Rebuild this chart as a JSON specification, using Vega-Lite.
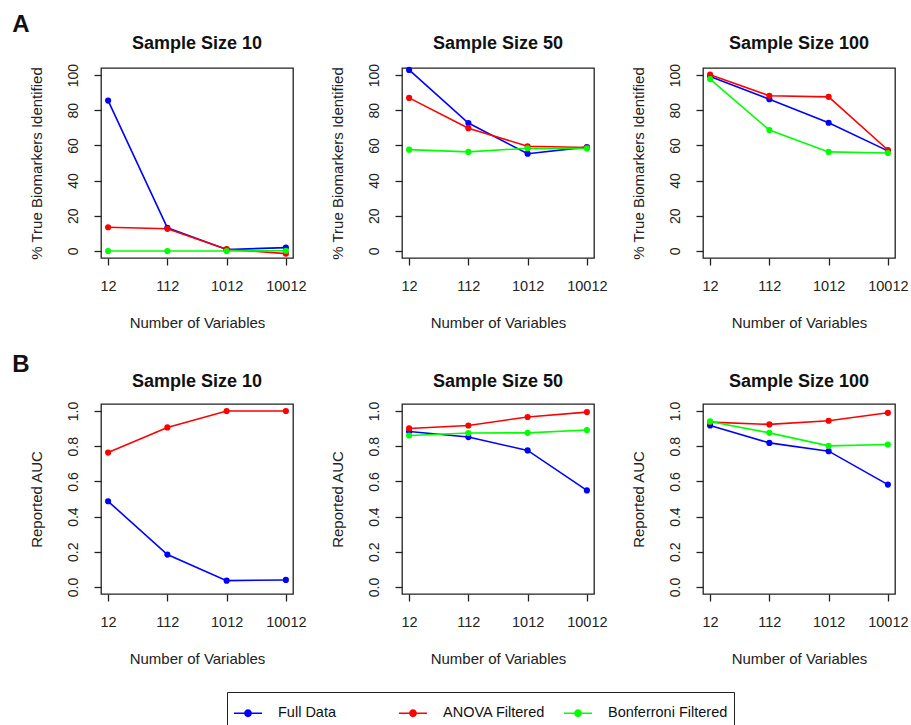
{
  "$schema": "https://vega.github.io/schema/vega-lite/v6.json",
  "padding": {"left": 12, "top": 12, "right": 2, "bottom": 2},
  "background": "white",
  "datasets": {
    "pts": [
      {"panel": "A10", "vars": "12", "method": "Full Data", "value": 85.5},
      {"panel": "A10", "vars": "112", "method": "Full Data", "value": 13.2},
      {"panel": "A10", "vars": "1012", "method": "Full Data", "value": 0.8},
      {"panel": "A10", "vars": "10012", "method": "Full Data", "value": 1.9},
      {"panel": "A10", "vars": "12", "method": "ANOVA Filtered", "value": 13.5},
      {"panel": "A10", "vars": "112", "method": "ANOVA Filtered", "value": 12.6},
      {"panel": "A10", "vars": "1012", "method": "ANOVA Filtered", "value": 1.0},
      {"panel": "A10", "vars": "10012", "method": "ANOVA Filtered", "value": -1.5},
      {"panel": "A10", "vars": "12", "method": "Bonferroni Filtered", "value": 0},
      {"panel": "A10", "vars": "112", "method": "Bonferroni Filtered", "value": 0},
      {"panel": "A10", "vars": "1012", "method": "Bonferroni Filtered", "value": 0},
      {"panel": "A10", "vars": "10012", "method": "Bonferroni Filtered", "value": 0.1},
      {"panel": "A50", "vars": "12", "method": "Full Data", "value": 102.9},
      {"panel": "A50", "vars": "112", "method": "Full Data", "value": 72.7},
      {"panel": "A50", "vars": "1012", "method": "Full Data", "value": 55.3},
      {"panel": "A50", "vars": "10012", "method": "Full Data", "value": 59.0},
      {"panel": "A50", "vars": "12", "method": "ANOVA Filtered", "value": 87.0},
      {"panel": "A50", "vars": "112", "method": "ANOVA Filtered", "value": 69.8},
      {"panel": "A50", "vars": "1012", "method": "ANOVA Filtered", "value": 59.5},
      {"panel": "A50", "vars": "10012", "method": "ANOVA Filtered", "value": 58.8},
      {"panel": "A50", "vars": "12", "method": "Bonferroni Filtered", "value": 57.6},
      {"panel": "A50", "vars": "112", "method": "Bonferroni Filtered", "value": 56.3},
      {"panel": "A50", "vars": "1012", "method": "Bonferroni Filtered", "value": 58.4},
      {"panel": "A50", "vars": "10012", "method": "Bonferroni Filtered", "value": 58.2},
      {"panel": "A100", "vars": "12", "method": "Full Data", "value": 99.2},
      {"panel": "A100", "vars": "112", "method": "Full Data", "value": 86.3},
      {"panel": "A100", "vars": "1012", "method": "Full Data", "value": 72.9},
      {"panel": "A100", "vars": "10012", "method": "Full Data", "value": 56.9},
      {"panel": "A100", "vars": "12", "method": "ANOVA Filtered", "value": 100.2},
      {"panel": "A100", "vars": "112", "method": "ANOVA Filtered", "value": 88.2},
      {"panel": "A100", "vars": "1012", "method": "ANOVA Filtered", "value": 87.6},
      {"panel": "A100", "vars": "10012", "method": "ANOVA Filtered", "value": 57.4},
      {"panel": "A100", "vars": "12", "method": "Bonferroni Filtered", "value": 97.7},
      {"panel": "A100", "vars": "112", "method": "Bonferroni Filtered", "value": 68.7},
      {"panel": "A100", "vars": "1012", "method": "Bonferroni Filtered", "value": 56.3},
      {"panel": "A100", "vars": "10012", "method": "Bonferroni Filtered", "value": 55.7},
      {"panel": "B10", "vars": "12", "method": "Full Data", "value": 0.487},
      {"panel": "B10", "vars": "112", "method": "Full Data", "value": 0.184},
      {"panel": "B10", "vars": "1012", "method": "Full Data", "value": 0.036},
      {"panel": "B10", "vars": "10012", "method": "Full Data", "value": 0.040},
      {"panel": "B10", "vars": "12", "method": "ANOVA Filtered", "value": 0.764},
      {"panel": "B10", "vars": "112", "method": "ANOVA Filtered", "value": 0.907},
      {"panel": "B10", "vars": "1012", "method": "ANOVA Filtered", "value": 1.0},
      {"panel": "B10", "vars": "10012", "method": "ANOVA Filtered", "value": 1.0},
      {"panel": "B50", "vars": "12", "method": "Full Data", "value": 0.884},
      {"panel": "B50", "vars": "112", "method": "Full Data", "value": 0.852},
      {"panel": "B50", "vars": "1012", "method": "Full Data", "value": 0.776},
      {"panel": "B50", "vars": "10012", "method": "Full Data", "value": 0.549},
      {"panel": "B50", "vars": "12", "method": "ANOVA Filtered", "value": 0.901},
      {"panel": "B50", "vars": "112", "method": "ANOVA Filtered", "value": 0.918},
      {"panel": "B50", "vars": "1012", "method": "ANOVA Filtered", "value": 0.966},
      {"panel": "B50", "vars": "10012", "method": "ANOVA Filtered", "value": 0.994},
      {"panel": "B50", "vars": "12", "method": "Bonferroni Filtered", "value": 0.861},
      {"panel": "B50", "vars": "112", "method": "Bonferroni Filtered", "value": 0.875},
      {"panel": "B50", "vars": "1012", "method": "Bonferroni Filtered", "value": 0.876},
      {"panel": "B50", "vars": "10012", "method": "Bonferroni Filtered", "value": 0.892},
      {"panel": "B100", "vars": "12", "method": "Full Data", "value": 0.918},
      {"panel": "B100", "vars": "112", "method": "Full Data", "value": 0.819},
      {"panel": "B100", "vars": "1012", "method": "Full Data", "value": 0.772},
      {"panel": "B100", "vars": "10012", "method": "Full Data", "value": 0.582},
      {"panel": "B100", "vars": "12", "method": "ANOVA Filtered", "value": 0.937},
      {"panel": "B100", "vars": "112", "method": "ANOVA Filtered", "value": 0.924},
      {"panel": "B100", "vars": "1012", "method": "ANOVA Filtered", "value": 0.945},
      {"panel": "B100", "vars": "10012", "method": "ANOVA Filtered", "value": 0.990},
      {"panel": "B100", "vars": "12", "method": "Bonferroni Filtered", "value": 0.941},
      {"panel": "B100", "vars": "112", "method": "Bonferroni Filtered", "value": 0.876},
      {"panel": "B100", "vars": "1012", "method": "Bonferroni Filtered", "value": 0.802},
      {"panel": "B100", "vars": "10012", "method": "Bonferroni Filtered", "value": 0.810}
    ]
  },
  "data": {"name": "pts"},
  "bounds": "flush",
  "spacing": 336,
  "vconcat": [
    {
      "title": {"text": "A", "anchor": "start", "frame": "bounds", "fontSize": 24, "fontWeight": "bold", "dx": -16, "offset": -2},
      "bounds": "flush",
      "spacing": 109,
      "hconcat": [
        {
          "title": "Sample Size 10", "width": 192, "height": 190,
          "transform": [{"filter": "datum.panel == 'A10'"}],
          "encoding": {
            "x": {"field": "vars", "type": "ordinal", "sort": ["12", "112", "1012", "10012"], "scale": {"type": "point", "padding": 0.12}, "title": "Number of Variables"},
            "y": {"field": "value", "type": "quantitative", "scale": {"domain": [-4, 104], "nice": false, "zero": false}, "axis": {"values": [0, 20, 40, 60, 80, 100]}, "title": "% True Biomarkers Identified"},
            "color": {"field": "method", "type": "nominal", "scale": {"domain": ["Full Data", "ANOVA Filtered", "Bonferroni Filtered"], "range": ["#0000FF", "#FF0000", "#00FF00"]}, "legend": {"title": null, "orient": "none", "legendX": 126, "legendY": 624}}
          },
          "layer": [{"mark": "line"}, {"mark": "point"}]
        },
        {
          "title": "Sample Size 50", "width": 192, "height": 190,
          "transform": [{"filter": "datum.panel == 'A50'"}],
          "encoding": {
            "x": {"field": "vars", "type": "ordinal", "sort": ["12", "112", "1012", "10012"], "scale": {"type": "point", "padding": 0.12}, "title": "Number of Variables"},
            "y": {"field": "value", "type": "quantitative", "scale": {"domain": [-4, 104], "nice": false, "zero": false}, "axis": {"values": [0, 20, 40, 60, 80, 100]}, "title": "% True Biomarkers Identified"},
            "color": {"field": "method", "type": "nominal", "scale": {"domain": ["Full Data", "ANOVA Filtered", "Bonferroni Filtered"], "range": ["#0000FF", "#FF0000", "#00FF00"]}, "legend": {"title": null, "orient": "none", "legendX": 126, "legendY": 624}}
          },
          "layer": [{"mark": "line"}, {"mark": "point"}]
        },
        {
          "title": "Sample Size 100", "width": 192, "height": 190,
          "transform": [{"filter": "datum.panel == 'A100'"}],
          "encoding": {
            "x": {"field": "vars", "type": "ordinal", "sort": ["12", "112", "1012", "10012"], "scale": {"type": "point", "padding": 0.12}, "title": "Number of Variables"},
            "y": {"field": "value", "type": "quantitative", "scale": {"domain": [-4, 104], "nice": false, "zero": false}, "axis": {"values": [0, 20, 40, 60, 80, 100]}, "title": "% True Biomarkers Identified"},
            "color": {"field": "method", "type": "nominal", "scale": {"domain": ["Full Data", "ANOVA Filtered", "Bonferroni Filtered"], "range": ["#0000FF", "#FF0000", "#00FF00"]}, "legend": {"title": null, "orient": "none", "legendX": 126, "legendY": 624}}
          },
          "layer": [{"mark": "line"}, {"mark": "point"}]
        }
      ]
    },
    {
      "title": {"text": "B", "anchor": "start", "frame": "bounds", "fontSize": 24, "fontWeight": "bold", "dx": -16, "offset": -4},
      "bounds": "flush",
      "spacing": 109,
      "hconcat": [
        {
          "title": "Sample Size 10", "width": 192, "height": 190,
          "transform": [{"filter": "datum.panel == 'B10'"}],
          "encoding": {
            "x": {"field": "vars", "type": "ordinal", "sort": ["12", "112", "1012", "10012"], "scale": {"type": "point", "padding": 0.12}, "title": "Number of Variables"},
            "y": {"field": "value", "type": "quantitative", "scale": {"domain": [-0.04, 1.04], "nice": false, "zero": false}, "axis": {"values": [0, 0.2, 0.4, 0.6, 0.8, 1.0], "format": ".1f"}, "title": "Reported AUC"},
            "color": {"field": "method", "type": "nominal", "scale": {"domain": ["Full Data", "ANOVA Filtered", "Bonferroni Filtered"], "range": ["#0000FF", "#FF0000", "#00FF00"]}, "legend": {"title": null, "orient": "none", "legendX": 126, "legendY": 624}}
          },
          "layer": [{"mark": "line"}, {"mark": "point"}]
        },
        {
          "title": "Sample Size 50", "width": 192, "height": 190,
          "transform": [{"filter": "datum.panel == 'B50'"}],
          "encoding": {
            "x": {"field": "vars", "type": "ordinal", "sort": ["12", "112", "1012", "10012"], "scale": {"type": "point", "padding": 0.12}, "title": "Number of Variables"},
            "y": {"field": "value", "type": "quantitative", "scale": {"domain": [-0.04, 1.04], "nice": false, "zero": false}, "axis": {"values": [0, 0.2, 0.4, 0.6, 0.8, 1.0], "format": ".1f"}, "title": "Reported AUC"},
            "color": {"field": "method", "type": "nominal", "scale": {"domain": ["Full Data", "ANOVA Filtered", "Bonferroni Filtered"], "range": ["#0000FF", "#FF0000", "#00FF00"]}, "legend": {"title": null, "orient": "none", "legendX": 126, "legendY": 624}}
          },
          "layer": [{"mark": "line"}, {"mark": "point"}]
        },
        {
          "title": "Sample Size 100", "width": 192, "height": 190,
          "transform": [{"filter": "datum.panel == 'B100'"}],
          "encoding": {
            "x": {"field": "vars", "type": "ordinal", "sort": ["12", "112", "1012", "10012"], "scale": {"type": "point", "padding": 0.12}, "title": "Number of Variables"},
            "y": {"field": "value", "type": "quantitative", "scale": {"domain": [-0.04, 1.04], "nice": false, "zero": false}, "axis": {"values": [0, 0.2, 0.4, 0.6, 0.8, 1.0], "format": ".1f"}, "title": "Reported AUC"},
            "color": {"field": "method", "type": "nominal", "scale": {"domain": ["Full Data", "ANOVA Filtered", "Bonferroni Filtered"], "range": ["#0000FF", "#FF0000", "#00FF00"]}, "legend": {"title": null, "orient": "none", "legendX": 126, "legendY": 624}}
          },
          "layer": [{"mark": "line"}, {"mark": "point"}]
        }
      ]
    }
  ],
  "resolve": {"scale": {"y": "independent", "x": "independent"}},
  "config": {
    "font": "Liberation Sans",
    "view": {"stroke": "#222222", "strokeWidth": 1.3},
    "axis": {"grid": false, "domain": false, "tickColor": "#222222", "tickSize": 7, "tickWidth": 1.3, "labelColor": "#222222", "titleColor": "#222222", "labelFontSize": 14, "titleFontSize": 15, "titleFontWeight": "normal", "labelFont": "Liberation Sans", "titleFont": "Liberation Sans"},
    "axisX": {"labelAngle": 0, "labelPadding": 14, "titlePadding": 23, "labelFontSize": 14.5},
    "axisY": {"labelAngle": -90, "labelAlign": "center", "labelBaseline": "bottom", "labelPadding": 14, "titlePadding": 22},
    "title": {"fontSize": 18, "fontWeight": "bold", "color": "#111111", "offset": 10, "font": "Liberation Sans"},
    "line": {"strokeWidth": 1.6},
    "point": {"filled": true, "size": 38, "opacity": 1},
    "legend": {
      "direction": "horizontal", "columns": 3, "gridAlign": "all", "columnPadding": -6,
      "strokeColor": "#222222", "padding": 6,
      "labelFontSize": 14.5, "labelColor": "#111111", "labelOffset": 15, "labelFont": "Liberation Sans",
      "symbolType": "M-1,0L1,0M0.22,0A0.22,0.22,0,1,1,-0.22,0A0.22,0.22,0,1,1,0.22,0Z",
      "symbolSize": 784, "symbolStrokeWidth": 1.6
    }
  }
}
